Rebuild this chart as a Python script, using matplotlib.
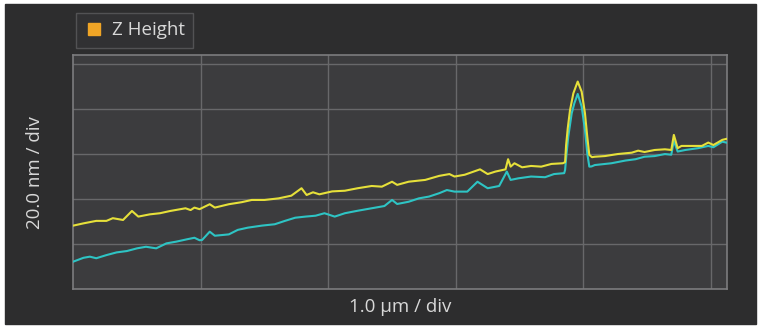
import matplotlib
matplotlib.use("Agg")
from matplotlib import pyplot as plt
from matplotlib import patches as mpatch
from matplotlib.lines import Line2D

# profile positions (um) and heights (nm)
yellow_x = [0.00, 0.08, 0.18, 0.26, 0.31, 0.39, 0.46, 0.51, 0.60, 0.68,
            0.76, 0.88, 0.92, 0.95, 0.99, 1.07, 1.11, 1.22, 1.32, 1.40,
            1.50, 1.61, 1.71, 1.79, 1.83, 1.88, 1.93, 2.03, 2.13, 2.23,
            2.34, 2.42, 2.50, 2.54, 2.63, 2.71, 2.76, 2.87, 2.95, 2.99,
            3.07, 3.19, 3.25, 3.31, 3.39, 3.41, 3.43, 3.46, 3.52, 3.59,
            3.67, 3.75, 3.84, 3.857, 3.865, 3.878, 3.896, 3.922, 3.956,
            3.987, 4.013, 4.031, 4.047, 4.068, 4.09, 4.17, 4.27, 4.38,
            4.43, 4.48, 4.56, 4.64, 4.69, 4.71, 4.74, 4.77, 4.85, 4.93,
            4.98, 5.02, 5.09, 5.12]
yellow_nm = [28.3, 29.3, 30.4, 30.4, 31.6, 30.8, 34.8, 32.3, 33.3, 33.8,
             34.8, 36.0, 35.2, 36.3, 35.6, 37.8, 36.3, 37.8, 38.7, 39.7,
             39.7, 40.4, 41.6, 44.9, 41.9, 43.1, 42.2, 43.5, 43.8, 44.9,
             45.9, 45.6, 47.8, 46.4, 47.8, 48.3, 48.6, 50.4, 51.2, 50.1,
             50.9, 53.3, 51.2, 52.3, 53.3, 57.8, 54.5, 56.0, 54.2, 54.8,
             54.5, 55.7, 56.0, 56.5, 64.0, 71.6, 79.7, 87.1, 92.3,
             87.8, 78.2, 67.8, 59.7, 58.7, 58.9, 59.2, 60.1, 60.7,
             61.6, 61.0, 61.9, 62.2, 61.9, 68.6, 62.7, 63.7, 63.7, 63.7,
             65.2, 64.1, 66.4, 66.8]

cyan_x = [0.00, 0.08, 0.13, 0.18, 0.26, 0.34, 0.42, 0.50, 0.57, 0.65,
          0.73, 0.81, 0.89, 0.95, 0.99, 1.01, 1.07, 1.11, 1.22, 1.29,
          1.37, 1.48, 1.58, 1.66, 1.74, 1.82, 1.90, 1.97, 2.05, 2.13,
          2.23, 2.34, 2.44, 2.50, 2.54, 2.63, 2.71, 2.79, 2.87, 2.93,
          2.99, 3.09, 3.17, 3.25, 3.34, 3.40, 3.43, 3.49, 3.59, 3.70,
          3.77, 3.85, 3.857, 3.868, 3.882, 3.909, 3.93, 3.956, 3.987,
          4.013, 4.031, 4.047, 4.065, 4.09, 4.22, 4.33, 4.41, 4.48,
          4.56, 4.64, 4.69, 4.71, 4.74, 4.80, 4.90, 4.98, 5.02, 5.09,
          5.12]
cyan_nm = [12.3, 14.0, 14.5, 13.8, 15.2, 16.4, 17.0, 18.2, 18.9, 18.2,
           20.4, 21.2, 22.2, 22.9, 21.8, 21.9, 25.6, 23.8, 24.4, 26.4,
           27.4, 28.3, 28.9, 30.4, 31.8, 32.3, 32.7, 33.8, 32.3, 33.8,
           34.9, 36.0, 37.0, 39.7, 37.9, 38.9, 40.4, 41.2, 42.7, 44.1,
           43.4, 43.4, 47.8, 44.9, 45.9, 52.3, 48.6, 49.3, 50.1, 49.8,
           51.2, 51.6, 53.0, 60.0, 67.8, 78.2, 82.7, 86.8, 81.2,
           70.8, 60.4, 54.5, 54.6, 55.2, 56.0, 57.2, 57.8, 58.9,
           59.2, 60.1, 59.8, 66.0, 61.2, 61.9, 62.7, 63.7, 63.1, 65.6,
           65.2]

x_divs = [1, 2, 3, 4, 5]
y_divs = [20, 40, 60, 80, 100]

plt.rcParams['font.family'] = ['Open Sans', 'DejaVu Sans']

fig = plt.figure(figsize=(7.61, 3.28), dpi=100, facecolor='white')
# dark panel with thin white margin
fig.patches.append(mpatch.Rectangle((5 / 761, 4 / 328), 751 / 761, 320 / 328,
                                    transform=fig.transFigure, color='#2d2d2e',
                                    zorder=-10))

ax = fig.add_axes([73.3 / 761, 1 - 289.3 / 328, 653.2 / 761, 234.3 / 328])
ax.set_facecolor('#3c3c3e')
ax.plot(cyan_x, cyan_nm, color='#2ec4c4', lw=1.5, zorder=3)
ax.plot(yellow_x, yellow_nm, color='#e6e03a', lw=1.5, zorder=4)

ax.set_xlim(0, 5.123)
ax.set_ylim(0, 104.1)
ax.set_xticks(x_divs)
ax.set_yticks(y_divs)
ax.tick_params(length=0, labelbottom=False, labelleft=False)
ax.grid(True, color='#68686a', lw=1.0)
for sp in ax.spines.values():
    sp.set_color('#7c7c7e')
    sp.set_linewidth(1.2)

ax.set_xlabel('1.0 µm / div', color='#d8d8d8', fontsize=13.5, labelpad=6)
ax.set_ylabel('20.0 nm / div', color='#d8d8d8', fontsize=13.5, labelpad=21)

handle = Line2D([], [], marker='s', ls='none', color='#f0a526',
                markersize=8)
leg = fig.legend([handle], ['Z Height'], loc='upper left',
                 bbox_to_anchor=(76 / 761, 1 - 13 / 328), borderaxespad=0,
                 frameon=True, fancybox=False, fontsize=13.5,
                 handletextpad=0.45, handlelength=1.0, borderpad=0.45,
                 labelcolor='#d8d8d8')
leg.get_frame().set_facecolor('#333335')
leg.get_frame().set_edgecolor('#5c5c5e')

fig.savefig('out.png', dpi=100, facecolor=fig.get_facecolor())
